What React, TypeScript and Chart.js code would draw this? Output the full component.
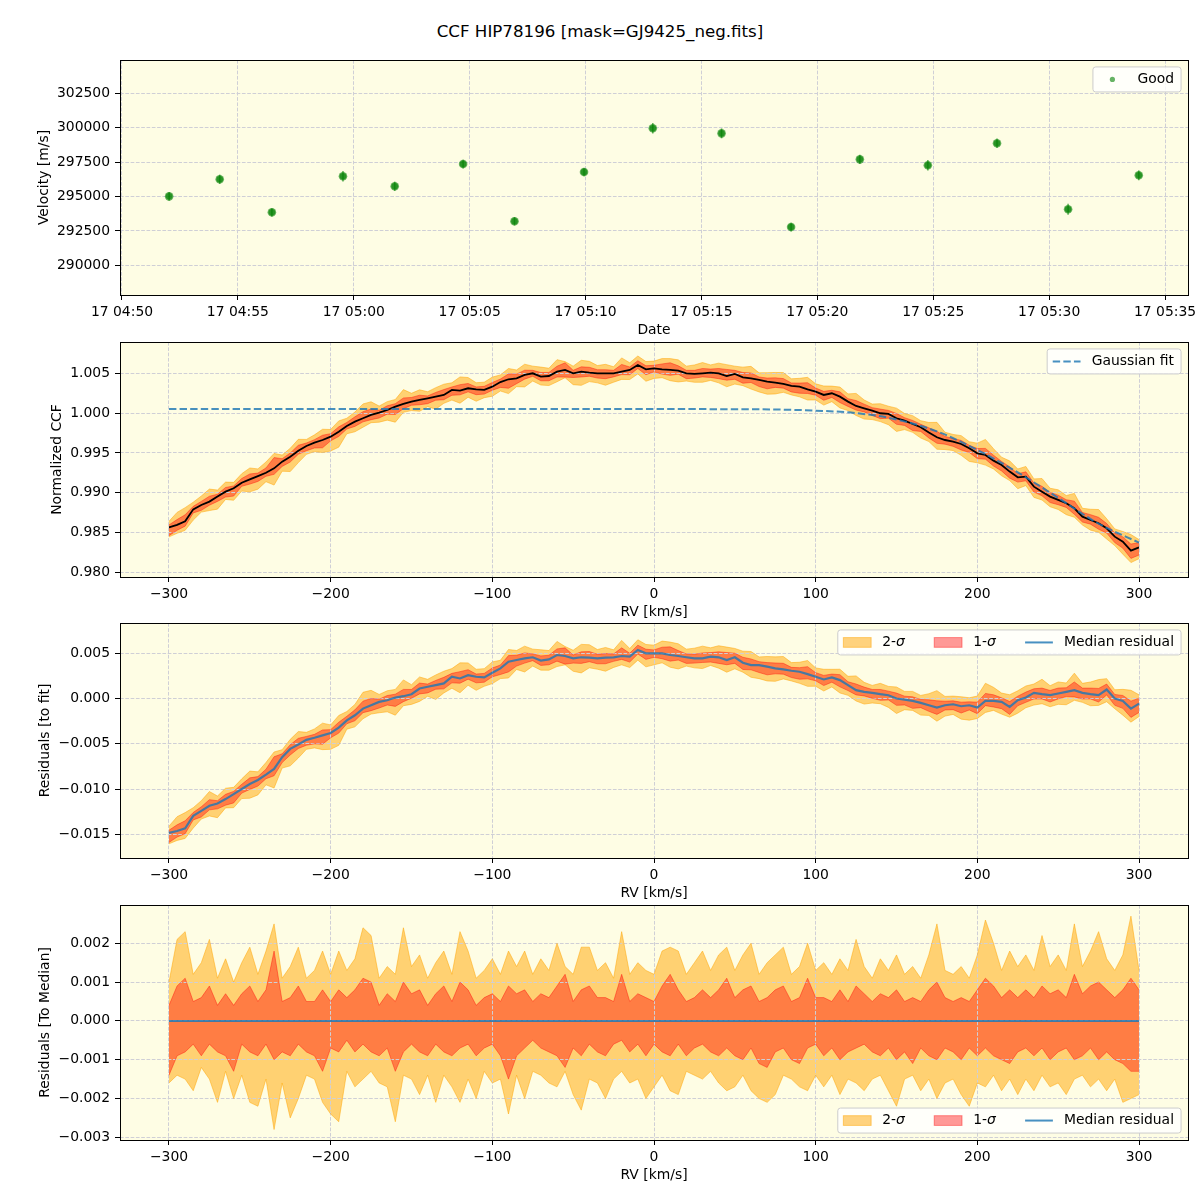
import React, { useEffect, useRef } from 'react';
import { Chart, registerables } from 'chart.js';

Chart.register(...registerables);

const FONT = '"DejaVu Sans", "Liberation Sans", sans-serif';
const FS = 13.9;
const BG = '#fefde4';
const GRID = '#cfcfd6';
const C2SIG = 'rgba(255,165,0,0.5)';
const C1SIG = 'rgba(255,0,0,0.4)';
const BLUE = 'rgba(31,119,180,0.82)';
const GREEN = 'rgba(0,128,0,0.6)';

const TITLE = 'CCF HIP78196 [mask=GJ9425_neg.fits]';

// ---------- Panel 1: velocity vs time ----------
const timeOrigin = '04:50:00';
const obsTimes = [
  '04:52:02', '04:54:13', '04:56:28', '04:59:32', '05:01:46', '05:04:43', '05:06:56', '05:09:56',
  '05:12:54', '05:15:52', '05:18:52', '05:21:50', '05:24:46', '05:27:45', '05:30:49', '05:33:52',
];
const obsVelocity = [
  295010, 296250, 293850, 296470, 295740, 297360, 293200, 296780,
  299960, 299590, 292780, 297700, 297270, 298870, 294070, 296540,
];
const obsVelocityErr = [320, 340, 300, 380, 340, 320, 310, 300, 380, 360, 320, 340, 380, 340, 400, 360];
const timeTicks = [0, 5, 10, 15, 20, 25, 30, 35, 40, 45];
const timeTickLabels = [
  '17 04:50', '17 04:55', '17 05:00', '17 05:05', '17 05:10',
  '17 05:15', '17 05:20', '17 05:25', '17 05:30', '17 05:35',
];
const velocityTicks = [290000, 292500, 295000, 297500, 300000, 302500];
const velocityTickLabels = ['290000', '292500', '295000', '297500', '300000', '302500'];

// ---------- Panels 2-4: CCF ----------
const RV_START = -300;
const RV_STEP = 5;
const ccfMedian = [
  0.98565, 0.98595, 0.98640, 0.98791, 0.98846, 0.98888, 0.98951, 0.99013, 0.99055, 0.99126,
  0.99168, 0.99209, 0.99251, 0.99306, 0.99390, 0.99453, 0.99528, 0.99587, 0.99629, 0.99662,
  0.99704, 0.99767, 0.99838, 0.99893, 0.99935, 0.99977, 1.00006, 1.00039, 1.00081, 1.00115,
  1.00144, 1.00165, 1.00186, 1.00207, 1.00228, 1.00291, 1.00282, 1.00312, 1.00299, 1.00291,
  1.00332, 1.00390, 1.00425, 1.00437, 1.00479, 1.00500, 1.00458, 1.00466, 1.00521, 1.00542,
  1.00500, 1.00521, 1.00508, 1.00500, 1.00500, 1.00500, 1.00521, 1.00542, 1.00605, 1.00550,
  1.00563, 1.00550, 1.00542, 1.00534, 1.00500, 1.00492, 1.00500, 1.00508, 1.00500, 1.00466,
  1.00492, 1.00450, 1.00437, 1.00416, 1.00395, 1.00383, 1.00366, 1.00341, 1.00332, 1.00299,
  1.00270, 1.00228, 1.00249, 1.00207, 1.00144, 1.00090, 1.00060, 1.00031, 0.99998, 0.99989,
  0.99935, 0.99905, 0.99863, 0.99822, 0.99755, 0.99696, 0.99662, 0.99642, 0.99612, 0.99558,
  0.99495, 0.99474, 0.99403, 0.99348, 0.99265, 0.99193, 0.99202, 0.99076, 0.99013, 0.98951,
  0.98909, 0.98867, 0.98804, 0.98699, 0.98657, 0.98616, 0.98553, 0.98448, 0.98385, 0.98272,
  0.98314,
];
const residMedian = [
  -0.01485, -0.01463, -0.01433, -0.01296, -0.01241, -0.01185, -0.01159, -0.01111, -0.01056, -0.01000,
  -0.00944, -0.00900, -0.00841, -0.00778, -0.00648, -0.00556, -0.00507, -0.00456, -0.00433, -0.00407,
  -0.00381, -0.00322, -0.00241, -0.00185, -0.00111, -0.00074, -0.00037, -0.00019, 0.00011, 0.00026,
  0.00048, 0.00111, 0.00130, 0.00148, 0.00167, 0.00241, 0.00222, 0.00259, 0.00241, 0.00233,
  0.00285, 0.00333, 0.00407, 0.00426, 0.00444, 0.00456, 0.00419, 0.00433, 0.00481, 0.00470,
  0.00444, 0.00456, 0.00452, 0.00444, 0.00452, 0.00456, 0.00470, 0.00463, 0.00537, 0.00500,
  0.00500, 0.00500, 0.00481, 0.00470, 0.00456, 0.00444, 0.00444, 0.00463, 0.00456, 0.00426,
  0.00456, 0.00396, 0.00370, 0.00370, 0.00352, 0.00333, 0.00322, 0.00307, 0.00296, 0.00270,
  0.00241, 0.00211, 0.00233, 0.00204, 0.00148, 0.00093, 0.00074, 0.00063, 0.00048, 0.00037,
  0.00000, -0.00011, -0.00026, -0.00048, -0.00074, -0.00100, -0.00074, -0.00063, -0.00085, -0.00074,
  -0.00100, -0.00026, -0.00026, -0.00037, -0.00093, -0.00019, 0.00011, 0.00063, 0.00048, 0.00037,
  0.00056, 0.00074, 0.00093, 0.00063, 0.00048, 0.00037, 0.00100, 0.00000, -0.00026, -0.00111,
  -0.00056,
];
// Percentile bands relative to the median, in units of 1e-4
const BAND_UNIT = 1e-4;
// band half-widths as they appear in the CCF / residual panels relative to the bottom panel
const BAND_SCALE_CCF = 0.75;
const sig2Up = [
  10, 21, 23, 12, 15, 21, 11, 16, 10, 15,
  19, 12, 18, 25, 11, 14, 19, 11, 13, 18,
  12, 18, 13, 16, 24, 22, 11, 14, 12, 24,
  14, 17, 11, 15, 18, 12, 23, 18, 11, 13,
  16, 12, 18, 14, 18, 12, 16, 13, 20, 14,
  12, 19, 19, 13, 15, 11, 23, 12, 15, 13,
  12, 18, 19, 18, 12, 15, 18, 13, 17, 19,
  13, 17, 20, 12, 15, 17, 19, 12, 14, 20,
  13, 15, 12, 16, 13, 21, 14, 11, 16, 13,
  17, 12, 14, 11, 17, 25, 13, 12, 14, 11,
  17, 26, 20, 13, 18, 14, 17, 13, 22, 14,
  17, 13, 25, 14, 18, 23, 16, 13, 17, 27,
  13,
];
const sig1Up = [
  4, 9, 11, 5, 6, 9, 4, 7, 4, 7,
  9, 5, 8, 18, 5, 6, 9, 5, 5, 8,
  5, 8, 6, 8, 11, 10, 4, 7, 5, 10,
  7, 8, 4, 7, 9, 5, 10, 8, 4, 6,
  7, 5, 9, 7, 8, 5, 7, 6, 9, 12,
  5, 8, 9, 6, 6, 5, 12, 5, 7, 6,
  5, 9, 12, 8, 5, 6, 8, 6, 8, 11,
  6, 8, 9, 5, 6, 8, 9, 5, 6, 11,
  6, 6, 5, 8, 5, 9, 7, 5, 7, 6,
  8, 5, 6, 5, 8, 10, 6, 5, 6, 5,
  8, 11, 9, 6, 8, 6, 8, 6, 9, 7,
  8, 6, 12, 7, 9, 10, 8, 6, 8, 11,
  8,
];
const sig1Lo = [
  -14, -9, -8, -6, -9, -6, -8, -9, -13, -6,
  -8, -9, -6, -10, -8, -9, -6, -8, -9, -13,
  -7, -8, -5, -8, -6, -8, -9, -7, -13, -8,
  -6, -8, -9, -6, -8, -9, -7, -6, -9, -7,
  -6, -9, -15, -9, -7, -5, -7, -8, -9, -12,
  -7, -9, -6, -8, -9, -6, -5, -8, -6, -9,
  -6, -8, -9, -6, -9, -7, -6, -8, -9, -7,
  -9, -10, -7, -11, -12, -8, -7, -10, -11, -7,
  -6, -9, -7, -10, -8, -7, -6, -8, -9, -7,
  -10, -8, -11, -7, -9, -10, -7, -8, -10, -7,
  -9, -7, -9, -10, -11, -8, -7, -9, -7, -10,
  -8, -7, -10, -9, -7, -10, -8, -10, -11, -13,
  -13,
];
const sig2Lo = [
  -16, -14, -15, -18, -12, -15, -21, -13, -20, -14,
  -21, -22, -15, -28, -16, -25, -20, -14, -15, -21,
  -24, -26, -13, -17, -15, -13, -16, -17, -26, -14,
  -15, -19, -14, -21, -14, -17, -21, -15, -20, -13,
  -16, -15, -24, -14, -20, -13, -14, -16, -17, -13,
  -19, -23, -15, -16, -20, -15, -13, -16, -15, -20,
  -17, -14, -18, -19, -13, -14, -15, -13, -16, -18,
  -17, -14, -18, -20, -21, -19, -14, -15, -17, -18,
  -14, -17, -14, -19, -15, -16, -18, -15, -14, -18,
  -22, -15, -14, -18, -15, -20, -16, -15, -19, -22,
  -16, -17, -14, -18, -15, -19, -15, -18, -14, -17,
  -16, -19, -15, -14, -17, -15, -18, -15, -21, -20,
  -19,
];
const fitRv = [-300, -275, -250, -225, -200, -175, -150, -125, -100, -75, -50, -25, 0, 25, 50, 75, 100, 125, 150, 175, 200, 225, 250, 275, 300];
const fitCcf = [
  1.0005, 1.0005, 1.0005, 1.0005, 1.0005, 1.0005, 1.0005, 1.0005, 1.0005, 1.0005,
  1.0005, 1.0005, 1.0005, 1.0005, 1.00049, 1.00045, 1.00031, 1.0, 0.9992, 0.9977,
  0.99537, 0.99255, 0.98935, 0.9861, 0.98373,
];

const rvTicks = [-300, -200, -100, 0, 100, 200, 300];
const rvTickLabels = ['\u2212300', '\u2212200', '\u2212100', '0', '100', '200', '300'];
const ccfTicks = [0.98, 0.985, 0.99, 0.995, 1.0, 1.005];
const ccfTickLabels = ['0.980', '0.985', '0.990', '0.995', '1.000', '1.005'];
const residTicks = [-0.015, -0.01, -0.005, 0, 0.005];
const residTickLabels = ['\u22120.015', '\u22120.010', '\u22120.005', '0.000', '0.005'];
const medTicks = [-0.003, -0.002, -0.001, 0, 0.001, 0.002];
const medTickLabels = ['\u22120.003', '\u22120.002', '\u22120.001', '0.000', '0.001', '0.002'];

// ---------- layout ----------
const CANVAS_H = 290;
const PANEL_TOPS = [50, 332, 613, 895];
const AREA_LEFT = 120;
const AREA_W = 1068;
const AREA_TOP = 10;
const AREA_H = 235;
const X_AXIS_H = CANVAS_H - AREA_TOP - AREA_H;
const X_TITLE_PAD = CANVAS_H - (AREA_TOP + AREA_H + 35.5) - FS * 0.6;

const rvGrid = ccfMedian.map((_, i) => RV_START + RV_STEP * i);

function toMinutes(s: string) {
  const [h, m, sec] = s.split(':').map(Number);
  return h * 60 + m + sec / 60;
}
const obsMinutes = obsTimes.map((t) => toMinutes(t) - toMinutes(timeOrigin));

function makeAxis(o: {
  axis: 'x' | 'y'; min: number; max: number; ticks: number[]; labels: string[]; title: string; titleCenter?: number;
}) {
  const isX = o.axis === 'x';
  return {
    type: 'linear',
    position: isX ? 'bottom' : 'left',
    min: o.min,
    max: o.max,
    afterBuildTicks: (s: any) => {
      s.ticks = o.ticks.map((v) => ({ value: v }));
    },
    afterFit: (s: any) => {
      if (isX) {
        s.height = X_AXIS_H;
        s.paddingLeft = 0;
        s.paddingRight = 0;
      } else {
        s.width = AREA_LEFT;
        s.paddingTop = 0;
        s.paddingBottom = 0;
      }
    },
    grid: {
      display: true, drawOnChartArea: true, drawTicks: true, color: GRID, lineWidth: 1,
      tickLength: 5, tickColor: '#000', tickWidth: 1, tickBorderDash: [],
    },
    border: { display: false, dash: [3.7, 1.6] },
    ticks: {
      autoSkip: false, maxRotation: 0, minRotation: 0, padding: isX ? 3.8 : 5, color: '#000',
      font: { family: FONT, size: FS },
      callback: (_v: any, i: number) => o.labels[i],
    },
    title: {
      display: true, text: o.title, color: '#000', font: { family: FONT, size: FS },
      padding: isX ? { top: 0, bottom: X_TITLE_PAD } : { top: (o.titleCenter || 45) - FS * 0.6, bottom: 0 },
    },
  };
}

function baseOptions(scales: any) {
  return {
    responsive: false,
    maintainAspectRatio: false,
    animation: false,
    devicePixelRatio: 1,
    events: [],
    layout: { padding: { left: 0, right: 1200 - AREA_LEFT - AREA_W, top: AREA_TOP, bottom: 0 }, autoPadding: false },
    plugins: {
      legend: { display: false },
      tooltip: { enabled: false },
      title: { display: false },
      filler: { drawTime: 'beforeDraw' },
    },
    scales,
  };
}

const framePlugin = {
  id: 'mplFrame',
  afterDraw(chart: any) {
    const { ctx, chartArea: a } = chart;
    ctx.save();
    ctx.strokeStyle = '#000';
    ctx.lineWidth = 1;
    ctx.setLineDash([]);
    ctx.strokeRect(Math.round(a.left) + 0.5, Math.round(a.top) + 0.5, Math.round(a.right - a.left), Math.round(a.bottom - a.top));
    ctx.restore();
  },
};

type LegendItem = { kind: 'patch' | 'line' | 'dashed' | 'marker'; color: string; label: string; sigma?: boolean };

function legendPlugin(items: LegendItem[], loc: 'upper' | 'lower') {
  return {
    id: 'mplLegend',
    afterDraw(chart: any) {
      const { ctx, chartArea: a } = chart;
      const bp = 0.4 * FS, hl = 2 * FS, htp = 0.8 * FS, cs = 2 * FS;
      const fontN = `${FS}px ${FONT}`;
      const fontI = `italic ${FS}px ${FONT}`;
      const EXTRA = 1.5;
      ctx.save();
      const widths = items.map((it) => {
        ctx.font = fontN;
        let w = ctx.measureText(it.label).width;
        if (it.sigma) {
          ctx.font = fontI;
          w += ctx.measureText('\u03c3').width;
        }
        return w + EXTRA;
      });
      const w = 2 * bp + widths.reduce((s, tw) => s + hl + htp + tw, 0) + cs * (items.length - 1);
      const h = 25;
      const right = a.right - 0.5 * FS;
      const left = right - w;
      const top = loc === 'upper' ? a.top + 0.5 * FS : a.bottom - 0.5 * FS - h;
      const r = 0.2 * FS;
      ctx.beginPath();
      ctx.moveTo(left + r, top);
      ctx.lineTo(left + w - r, top);
      ctx.arcTo(left + w, top, left + w, top + r, r);
      ctx.lineTo(left + w, top + h - r);
      ctx.arcTo(left + w, top + h, left + w - r, top + h, r);
      ctx.lineTo(left + r, top + h);
      ctx.arcTo(left, top + h, left, top + h - r, r);
      ctx.lineTo(left, top + r);
      ctx.arcTo(left, top, left + r, top, r);
      ctx.closePath();
      ctx.fillStyle = 'rgba(255,255,255,0.8)';
      ctx.fill();
      ctx.strokeStyle = '#cccccc';
      ctx.lineWidth = 1;
      ctx.stroke();
      const cy = top + h / 2;
      let x = left + bp;
      items.forEach((it, i) => {
        ctx.save();
        if (it.kind === 'patch') {
          const ph = 0.7 * FS;
          ctx.fillStyle = it.color;
          ctx.strokeStyle = it.color;
          ctx.lineWidth = 1;
          ctx.fillRect(x, cy - ph / 2, hl, ph);
          ctx.strokeRect(x, cy - ph / 2, hl, ph);
        } else if (it.kind === 'line' || it.kind === 'dashed') {
          ctx.strokeStyle = it.color;
          ctx.lineWidth = 2;
          ctx.setLineDash(it.kind === 'dashed' ? [7.4, 3.2] : []);
          ctx.beginPath();
          ctx.moveTo(x, cy);
          ctx.lineTo(x + hl, cy);
          ctx.stroke();
        } else {
          ctx.fillStyle = it.color;
          ctx.beginPath();
          ctx.arc(x + hl / 2, cy, 2.6, 0, Math.PI * 2);
          ctx.fill();
        }
        ctx.restore();
        const tx = x + hl + htp;
        ctx.fillStyle = '#000';
        ctx.textBaseline = 'middle';
        ctx.textAlign = 'left';
        ctx.font = fontN;
        ctx.fillText(it.label, tx, cy);
        if (it.sigma) {
          const lw = ctx.measureText(it.label).width;
          ctx.font = fontI;
          ctx.fillText('\u03c3', tx + lw, cy);
        }
        x += hl + htp + widths[i] + cs;
      });
      ctx.restore();
    },
  };
}

const errorBarPlugin = {
  id: 'errBars',
  afterDatasetsDraw(chart: any) {
    const { ctx } = chart;
    const xs = chart.scales.x;
    const ys = chart.scales.y;
    ctx.save();
    ctx.strokeStyle = GREEN;
    ctx.lineWidth = 1.6;
    obsMinutes.forEach((t, i) => {
      const px = xs.getPixelForValue(t);
      ctx.beginPath();
      ctx.moveTo(px, ys.getPixelForValue(obsVelocity[i] - obsVelocityErr[i]));
      ctx.lineTo(px, ys.getPixelForValue(obsVelocity[i] + obsVelocityErr[i]));
      ctx.stroke();
    });
    ctx.restore();
  },
};

function bandDatasets(center: number[], scale: number) {
  const mk = (arr: number[]) => rvGrid.map((x, i) => ({ x, y: center[i] + arr[i] * BAND_UNIT * scale }));
  const common = { pointRadius: 0, borderWidth: 1, tension: 0 };
  return [
    { ...common, label: '2-sigma', data: mk(sig2Up), borderColor: C2SIG, backgroundColor: C2SIG, fill: '+1', order: 3 },
    { ...common, label: '2-sigma-lo', data: mk(sig2Lo), borderColor: C2SIG, backgroundColor: C2SIG, fill: false, order: 3 },
    { ...common, label: '1-sigma', data: mk(sig1Up), borderColor: C1SIG, backgroundColor: C1SIG, fill: '+1', order: 2 },
    { ...common, label: '1-sigma-lo', data: mk(sig1Lo), borderColor: C1SIG, backgroundColor: C1SIG, fill: false, order: 2 },
  ];
}

const sigmaLegend: LegendItem[] = [
  { kind: 'patch', color: C2SIG, label: '2-', sigma: true },
  { kind: 'patch', color: C1SIG, label: '1-', sigma: true },
  { kind: 'line', color: BLUE, label: 'Median residual' },
];

function rvAxis() {
  return makeAxis({ axis: 'x', min: -330.3, max: 330.3, ticks: rvTicks, labels: rvTickLabels, title: 'RV [km/s]' });
}

function velocityConfig(): any {
  const pts = obsMinutes.map((t, i) => ({ x: t, y: obsVelocity[i] }));
  return {
    type: 'scatter',
    data: {
      datasets: [
        { label: 'Good', data: pts, pointRadius: 4.3, pointBackgroundColor: GREEN, pointBorderWidth: 0, pointBorderColor: 'rgba(0,0,0,0)', order: 1 },
        { label: 'Good-core', data: pts, pointRadius: 3.3, pointBackgroundColor: GREEN, pointBorderWidth: 0, pointBorderColor: 'rgba(0,0,0,0)', order: 0 },
      ],
    },
    options: baseOptions({
      x: makeAxis({ axis: 'x', min: -0.086, max: 45.99, ticks: timeTicks, labels: timeTickLabels, title: 'Date' }),
      y: makeAxis({ axis: 'y', min: 287842, max: 304920, ticks: velocityTicks, labels: velocityTickLabels, title: 'Velocity [m/s]', titleCenter: 44 }),
    }),
    plugins: [errorBarPlugin, framePlugin, legendPlugin([{ kind: 'marker', color: GREEN, label: 'Good' }], 'upper')],
  };
}

function ccfConfig(): any {
  return {
    type: 'line',
    data: {
      datasets: [
        ...bandDatasets(ccfMedian, BAND_SCALE_CCF),
        { label: 'median', data: rvGrid.map((x, i) => ({ x, y: ccfMedian[i] })), borderColor: '#000', borderWidth: 1.8, pointRadius: 0, fill: false, order: 1 },
        {
          label: 'Gaussian fit', data: fitRv.map((x, i) => ({ x, y: fitCcf[i] })), borderColor: BLUE, borderWidth: 2,
          borderDash: [7.4, 3.2], pointRadius: 0, fill: false, cubicInterpolationMode: 'monotone', order: 0,
        },
      ],
    },
    options: baseOptions({
      x: rvAxis(),
      y: makeAxis({ axis: 'y', min: 0.97941, max: 1.008932, ticks: ccfTicks, labels: ccfTickLabels, title: 'Normalized CCF', titleCenter: 57 }),
    }),
    plugins: [framePlugin, legendPlugin([{ kind: 'dashed', color: BLUE, label: 'Gaussian fit' }], 'upper')],
  };
}

function residConfig(): any {
  return {
    type: 'line',
    data: {
      datasets: [
        ...bandDatasets(residMedian, BAND_SCALE_CCF),
        { label: 'Median residual', data: rvGrid.map((x, i) => ({ x, y: residMedian[i] })), borderColor: BLUE, borderWidth: 2.2, pointRadius: 0, fill: false, order: 1 },
      ],
    },
    options: baseOptions({
      x: rvAxis(),
      y: makeAxis({ axis: 'y', min: -0.017619, max: 0.008348, ticks: residTicks, labels: residTickLabels, title: 'Residuals [to fit]', titleCenter: 45 }),
    }),
    plugins: [framePlugin, legendPlugin(sigmaLegend, 'upper')],
  };
}

function medianConfig(): any {
  const zero = rvGrid.map(() => 0);
  return {
    type: 'line',
    data: {
      datasets: [
        ...bandDatasets(zero, 1),
        { label: 'Median residual', data: rvGrid.map((x, i) => ({ x, y: zero[i] })), borderColor: BLUE, borderWidth: 2, pointRadius: 0, fill: false, order: 1 },
      ],
    },
    options: baseOptions({
      x: rvAxis(),
      y: makeAxis({ axis: 'y', min: -0.00307, max: 0.002987, ticks: medTicks, labels: medTickLabels, title: 'Residuals [To Median]', titleCenter: 45 }),
    }),
    plugins: [framePlugin, legendPlugin(sigmaLegend, 'lower')],
  };
}

export default function App() {
  const r1 = useRef<HTMLCanvasElement>(null);
  const r2 = useRef<HTMLCanvasElement>(null);
  const r3 = useRef<HTMLCanvasElement>(null);
  const r4 = useRef<HTMLCanvasElement>(null);

  useEffect(() => {
    Chart.defaults.font.family = FONT;
    Chart.defaults.color = '#000';
    const charts = [
      new Chart(r1.current as HTMLCanvasElement, velocityConfig()),
      new Chart(r2.current as HTMLCanvasElement, ccfConfig()),
      new Chart(r3.current as HTMLCanvasElement, residConfig()),
      new Chart(r4.current as HTMLCanvasElement, medianConfig()),
    ];
    return () => charts.forEach((c) => c.destroy());
  }, []);

  const refs = [r1, r2, r3, r4];
  return (
    <div style={{ position: 'absolute', left: 0, top: 0, width: 1200, height: 1200, background: '#fff', overflow: 'hidden' }}>
      <div
        style={{
          position: 'absolute', left: 0, top: 22, width: 1200, textAlign: 'center',
          fontFamily: FONT, fontSize: 16.67, lineHeight: '20px', color: '#000',
        }}
      >
        {TITLE}
      </div>
      {PANEL_TOPS.map((t) => (
        <div
          key={'bg' + t}
          style={{ position: 'absolute', left: AREA_LEFT, top: t + AREA_TOP, width: AREA_W, height: AREA_H, background: BG }}
        />
      ))}
      {PANEL_TOPS.map((t, i) => (
        <canvas
          key={'cv' + t}
          ref={refs[i]}
          width={1200}
          height={CANVAS_H}
          style={{ position: 'absolute', left: 0, top: t, width: 1200, height: CANVAS_H, display: 'block' }}
        />
      ))}
    </div>
  );
}
